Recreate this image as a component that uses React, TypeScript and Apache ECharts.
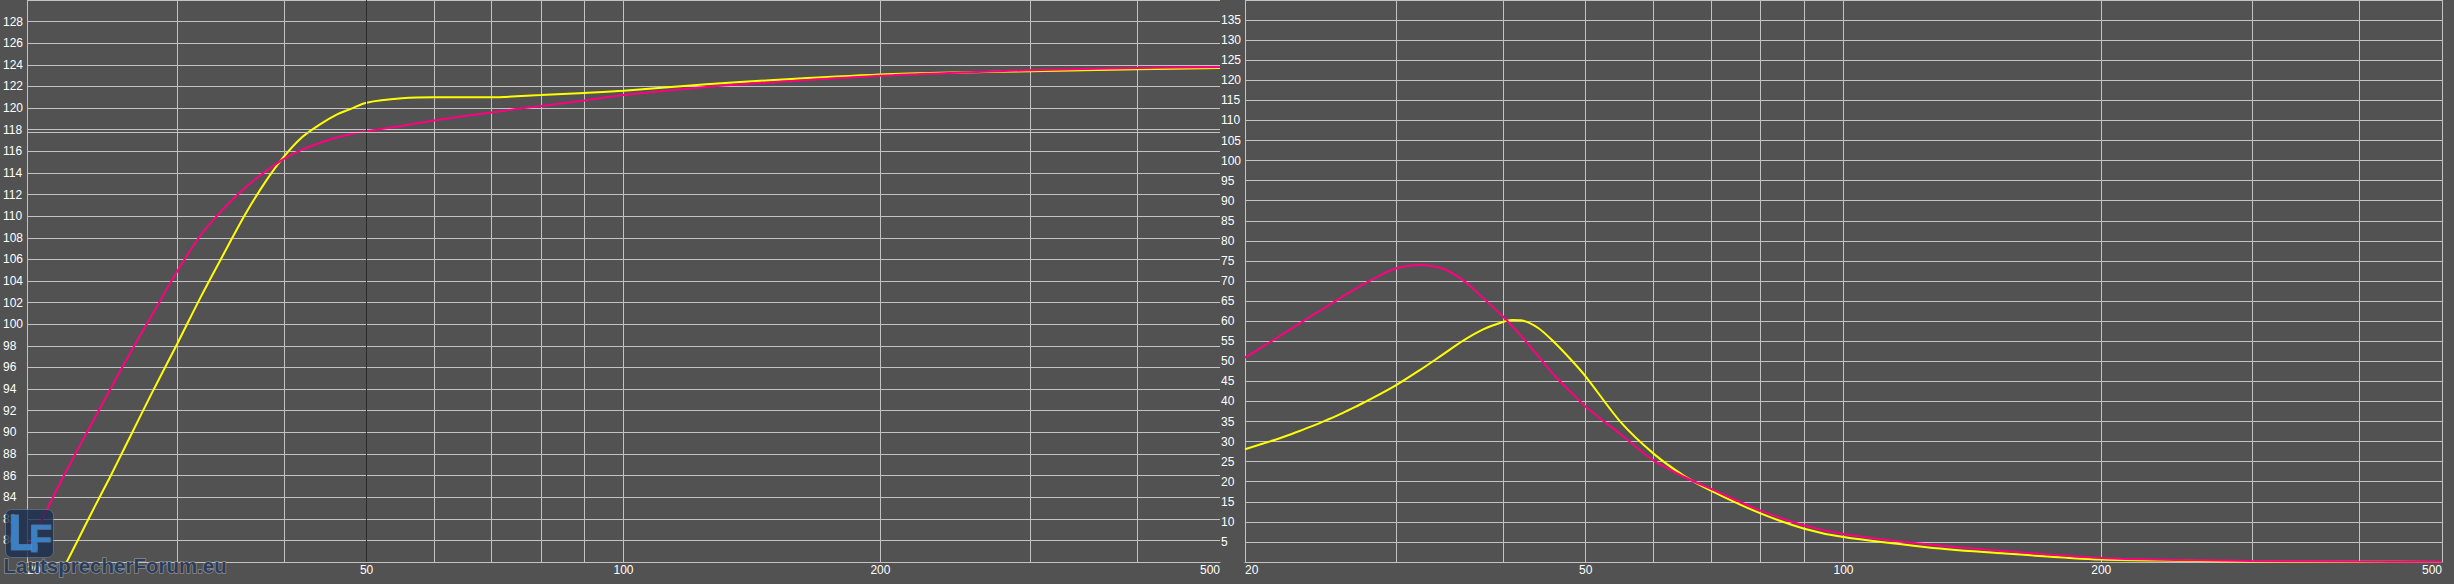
import React, { useEffect, useRef } from "react";
import * as echarts from "echarts";

// ---------- data ----------
const leftFreq = [20, 21, 22, 23, 24, 25, 26, 27, 28, 30, 32, 34, 36, 38, 40, 42, 44, 46, 48, 50, 55, 60, 70, 80, 90, 100, 125, 150, 200, 250, 300, 400, 500];
const leftYellow = [70.8, 74.1, 77.2, 80.2, 83.1, 85.8, 88.5, 91.1, 93.6, 98.2, 102.6, 106.5, 110.1, 113.1, 115.5, 117.3, 118.45, 119.35, 119.95, 120.5, 120.9, 121.0, 121.0, 121.2, 121.4, 121.6, 122.2, 122.6, 123.1, 123.3, 123.4, 123.6, 123.7];
const leftPink = [79.0, 82.5, 85.7, 88.6, 91.3, 93.9, 96.35, 98.66, 100.8, 104.9, 108.3, 110.7, 112.6, 114.1, 115.3, 116.15, 116.75, 117.25, 117.6, 117.85, 118.35, 118.85, 119.6, 120.2, 120.7, 121.2, 121.95, 122.4, 123.0, 123.3, 123.5, 123.7, 123.8];

const rightFreq = [20, 21, 22, 23, 24, 25, 26, 27, 28, 30, 32, 34, 36, 38, 40, 41, 42, 44, 46, 48, 50, 55, 60, 65, 70, 80, 90, 100, 125, 150, 200, 250, 300, 400, 500];
const rightYellow = [28.1, 29.5, 30.9, 32.4, 33.9, 35.5, 37.1, 38.8, 40.5, 44.0, 47.8, 51.6, 55.2, 58.0, 59.8, 60.3, 60.2, 58.3, 54.6, 50.5, 46.2, 34.7, 27.0, 21.6, 17.8, 12.1, 8.3, 6.2, 3.7, 2.3, 0.6, 0.3, 0.1, 0.05, 0.02];
const rightPink = [50.9, 53.7, 56.4, 59.0, 61.5, 63.8, 66.1, 68.2, 70.1, 73.1, 74.0, 73.1, 70.1, 65.6, 61.2, 58.8, 56.4, 51.3, 46.4, 42.4, 38.7, 31.7, 25.3, 21.3, 18.2, 12.8, 9.1, 7.0, 4.4, 2.9, 1.0, 0.5, 0.25, 0.1, 0.05];

const xLabelValues = [20, 50, 100, 200, 500];
const leftGridFreqs = [20, 30, 40, 50, 60, 70, 80, 90, 100, 200, 300, 400];
const rightGridFreqs = [20, 30, 40, 50, 60, 70, 80, 90, 100, 200, 300, 400, 500];
const freqMin = 20;
const freqMax = 500;
const leftYMin = 78;
const leftYMax = 130;
const leftYStep = 2;
const rightYMin = 0;
const rightYMax = 140;
const rightYStep = 5;
const cursorFreq = 50;
const cursorLevel = 117.75;

const BG = "#525252";
const GRIDC = "#c3c3c3";
const PINK = "#ff0080";
const YELLOW = "#ffff00";
const FONT = '"Liberation Sans", Arial, sans-serif';

function pairs(xs: number[], ys: number[]) {
  return xs.map((x, i) => [x, ys[i]]);
}

function xAxisDef(gridIndex: number, gridFreqs: number[]) {
  return {
    type: "log",
    logBase: 10,
    gridIndex,
    min: freqMin,
    max: freqMax,
    axisLine: { show: true, lineStyle: { color: GRIDC, width: 1 } },
    axisTick: { show: false, customValues: gridFreqs },
    splitLine: { show: true, lineStyle: { color: GRIDC, width: 1 } },
    axisLabel: {
      customValues: xLabelValues,
      color: "#ffffff",
      fontSize: 12,
      fontFamily: FONT,
      margin: 2,
      alignMinLabel: "left",
      alignMaxLabel: "right",
      formatter: (v: number) => String(Math.round(v)),
    },
  };
}

function yAxisDef(gridIndex: number, min: number, max: number, step: number) {
  return {
    type: "value",
    gridIndex,
    min,
    max,
    interval: step,
    axisLine: { show: true, lineStyle: { color: GRIDC, width: 1 } },
    axisTick: { show: false },
    splitLine: { show: true, lineStyle: { color: GRIDC, width: 1 } },
    axisLabel: {
      showMinLabel: false,
      showMaxLabel: false,
      color: "#ffffff",
      fontSize: 12,
      fontFamily: FONT,
      align: "left",
      margin: 24,
    },
  };
}

function lineSeries(name: string, idx: number, data: number[][], color: string, extra: any = {}) {
  return {
    name,
    type: "line",
    xAxisIndex: idx,
    yAxisIndex: idx,
    data,
    showSymbol: false,
    smooth: 0.3,
    clip: true,
    lineStyle: { color, width: 2 },
    itemStyle: { color },
    ...extra,
  };
}

export default function App() {
  const ref = useRef<HTMLDivElement>(null);
  useEffect(() => {
    if (!ref.current) return;
    const chart = echarts.init(ref.current, undefined, { renderer: "svg" });
    chart.setOption({
      animation: false,
      backgroundColor: BG,
      grid: [
        { left: 25, top: 0, width: 1195, height: 562 },
        { left: 1245, top: 0, width: 1197, height: 562 },
      ],
      xAxis: [xAxisDef(0, leftGridFreqs), xAxisDef(1, rightGridFreqs)],
      yAxis: [
        yAxisDef(0, leftYMin, leftYMax, leftYStep),
        yAxisDef(1, rightYMin, rightYMax, rightYStep),
      ],
      series: [
        lineSeries("left-yellow", 0, pairs(leftFreq, leftYellow), YELLOW),
        lineSeries("left-pink", 0, pairs(leftFreq, leftPink), PINK, {
          markLine: {
            silent: true,
            symbol: "none",
            label: { show: false },
            data: [
              { xAxis: cursorFreq, lineStyle: { color: "#2e2e2e", width: 1, type: "solid" } },
              { yAxis: cursorLevel, lineStyle: { color: GRIDC, width: 1, type: "solid" } },
            ],
          },
        }),
        lineSeries("right-yellow", 1, pairs(rightFreq, rightYellow), YELLOW),
        lineSeries("right-pink", 1, pairs(rightFreq, rightPink), PINK),
      ],
      graphic: [
        {
          type: "rect",
          left: 5,
          top: 509,
          z: 100,
          shape: { width: 48, height: 48, r: 6 },
          style: { fill: "rgba(26,46,80,0.78)", stroke: "rgba(130,150,180,0.45)", lineWidth: 1 },
        },
        {
          type: "text",
          x: 8,
          y: 508,
          z: 101,
          style: {
            text: "L",
            font: 'bold 50px "Liberation Sans", Arial, sans-serif',
            fill: "#3b7fc4",
            stroke: "rgba(190,200,215,0.35)",
            lineWidth: 1,
            verticalAlign: "top",
          },
        },
        {
          type: "text",
          x: 29,
          y: 520,
          z: 101,
          style: {
            text: "F",
            font: 'bold 38px "Liberation Sans", Arial, sans-serif',
            fill: "#3b7fc4",
            stroke: "rgba(190,200,215,0.35)",
            lineWidth: 1,
            verticalAlign: "top",
          },
        },
        {
          type: "text",
          x: 3.5,
          y: 555,
          z: 101,
          style: {
            text: "LautsprecherForum.eu",
            font: 'bold 20.5px "Liberation Sans", Arial, sans-serif',
            fill: "rgba(38,58,90,0.95)",
            stroke: "rgba(175,175,175,0.6)",
            lineWidth: 1.5,
            verticalAlign: "top",
          },
        },
      ],
    });
    return () => chart.dispose();
  }, []);
  return (
    <div
      ref={ref}
      style={{ position: "absolute", left: 0, top: 0, width: 2454, height: 584, background: BG }}
    />
  );
}
